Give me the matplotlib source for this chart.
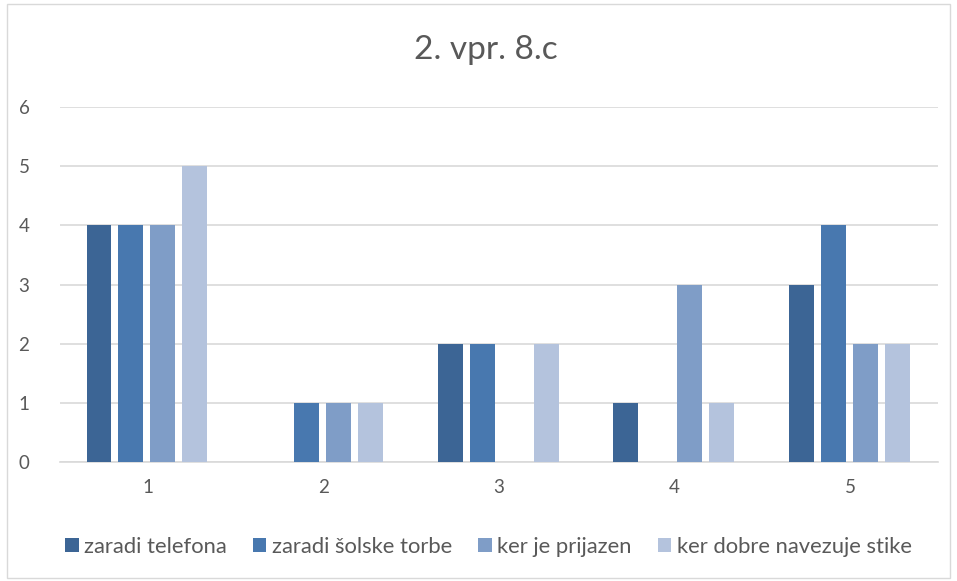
import matplotlib.pyplot as plt
import numpy as np
from matplotlib.patches import Rectangle

categories = ['1', '2', '3', '4', '5']
series_names = ['zaradi telefona', 'zaradi šolske torbe', 'ker je prijazen', 'ker dobre navezuje stike']
telefona = [4, 0, 2, 1, 3]
torbe = [4, 1, 2, 0, 4]
prijazen = [4, 1, 0, 3, 2]
stike = [5, 1, 2, 1, 2]
colors = ['#3C6595', '#4878AF', '#7F9DC7', '#B4C3DD']

plt.rcParams['font.family'] = ['Lato', 'DejaVu Sans']

fig = plt.figure(figsize=(9.57, 5.81), dpi=100)
ax = fig.add_axes([60 / 957, 119 / 581, 878 / 957, 355 / 581])

x = np.arange(len(categories))
width = 0.142
pitch = 0.182
for i, (vals, name) in enumerate(zip([telefona, torbe, prijazen, stike], series_names)):
    ax.bar(x + (i - 1.5) * pitch - 0.005, vals, width, color=colors[i], label=name, zorder=3)

ax.set_xlim(-0.5, 4.5)
ax.set_ylim(0, 6)
ax.set_yticks(range(7))
ax.set_xticks(x)
ax.set_xticklabels(categories)
ax.grid(axis='y', color='#d9d9d9', linewidth=1.2, zorder=0)
for s in ['top', 'right', 'left']:
    ax.spines[s].set_visible(False)
ax.spines['bottom'].set_color('#d9d9d9')
ax.spines['bottom'].set_linewidth(1.2)
ax.tick_params(length=0, labelsize=13.5, colors='#595959', pad=12)
ax.tick_params(axis='y', pad=22)

fig.text(0.5 + 7 / 957, 1 - 50 / 581, '2. vpr. 8.c', ha='center', va='center', fontsize=24, color='#595959')

leg = fig.legend(loc='center', bbox_to_anchor=(0.5 + 10 / 957, 1 - 547 / 581), ncol=4, frameon=False,
                 fontsize=15.8, handlelength=0.6, handleheight=0.6, handletextpad=0.25, columnspacing=1.2)
for t in leg.get_texts():
    t.set_color('#595959')

fig.patches.append(Rectangle((7 / 957, 3 / 581), 943 / 957, 574 / 581, transform=fig.transFigure,
                             fill=False, edgecolor='#d9d9d9', linewidth=1))

fig.savefig('out.png', dpi=100)
